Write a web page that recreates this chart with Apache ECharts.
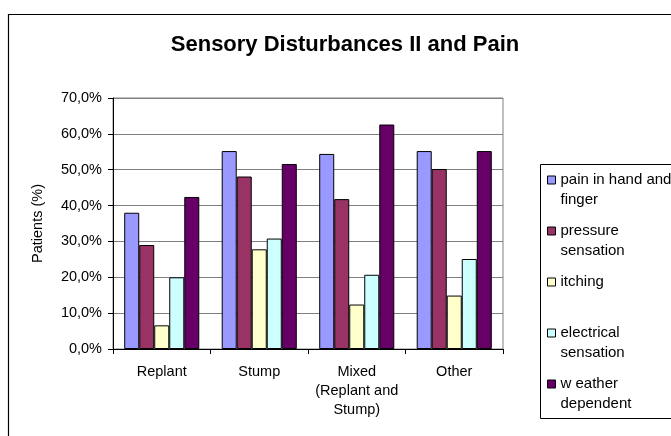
<!DOCTYPE html>
<html><head><meta charset="utf-8">
<script src="https://cdn.jsdelivr.net/npm/echarts@6/dist/echarts.min.js"></script>
<style>html,body{margin:0;padding:0;background:#fff}#c{width:671px;height:436px}</style>
</head><body><div id="c"></div>
<script>
const categories = ['Replant', 'Stump', 'Mixed\n(Replant and\nStump)', 'Other'];
const seriesNames = ['pain in hand and finger', 'pressure sensation', 'itching', 'electrical sensation', 'w eather dependent'];
const legendLabels = ['pain in hand and\nfinger', 'pressure\nsensation', 'itching\n ', 'electrical\nsensation', 'w eather\ndependent'];
const painValues = [38.0, 55.2, 54.4, 55.2];
const pressureValues = [29.0, 48.1, 41.8, 50.2];
const itchingValues = [6.6, 27.8, 12.4, 14.9];
const electricalValues = [20.0, 30.8, 20.7, 25.1];
const weatherValues = [42.4, 51.6, 62.6, 55.2];
const yTicks = [0, 10, 20, 30, 40, 50, 60, 70];
const colors = ['#9999FF', '#993366', '#FFFFCC', '#CCFFFF', '#660066'];
const allValues = [painValues, pressureValues, itchingValues, electricalValues, weatherValues];

const font = 'Liberation Sans, Arial, sans-serif';
const chart = echarts.init(document.getElementById('c'), null, {renderer: 'canvas'});
const legendMap = {};
seriesNames.forEach((n, i) => legendMap[n] = '\n' + legendLabels[i]);

chart.setOption({
  animation: false,
  backgroundColor: '#fff',
  title: {
    text: 'Sensory Disturbances II and Pain',
    left: 345, top: 34, textAlign: 'center', padding: 0,
    textStyle: {fontFamily: font, fontSize: 22, fontWeight: 'bold', color: '#000'}
  },
  graphic: [{
    type: 'rect', silent: true,
    shape: {x: 8.5, y: 14.5, width: 700, height: 460},
    style: {fill: 'none', stroke: '#000', lineWidth: 1.2}
  }, {
    type: 'rect', silent: true,
    shape: {x: 540.5, y: 164.5, width: 200, height: 254},
    style: {fill: 'none', stroke: '#000', lineWidth: 1}
  }],
  legend: {
    orient: 'vertical', left: 547, top: 150,
    data: seriesNames,
    icon: 'rect', itemWidth: 8, itemHeight: 8, itemGap: -9,
    padding: 0,
    formatter: n => legendMap[n],
    textStyle: {fontFamily: font, fontSize: 15, color: '#000', lineHeight: 20},
    itemStyle: {borderColor: '#000', borderWidth: 1}
  },
  grid: {left: 113, right: 168, top: 98, bottom: 87, show: true, borderColor: '#808080', borderWidth: 1, containLabel: false},
  xAxis: {
    type: 'category', data: categories,
    axisLine: {lineStyle: {color: '#000', width: 1}},
    axisTick: {show: true, interval: 0, length: 5, lineStyle: {color: '#000'}},
    axisLabel: {fontFamily: font, fontSize: 14.5, color: '#000', margin: 13, lineHeight: 19, interval: 0}
  },
  yAxis: {
    type: 'value', min: 0, max: 70, interval: 10,
    name: 'Patients (%)', nameLocation: 'middle', nameGap: 68, nameRotate: 90,
    nameTextStyle: {fontFamily: font, fontSize: 14.5, color: '#000'},
    axisLine: {show: true, lineStyle: {color: '#000', width: 1}},
    axisTick: {show: true, length: 5, lineStyle: {color: '#000'}},
    splitLine: {lineStyle: {color: '#808080', width: 1}},
    axisLabel: {fontFamily: font, fontSize: 14.5, color: '#000', margin: 11,
      formatter: v => v.toFixed(1).replace('.', ',') + '%'}
  },
  series: seriesNames.map((n, i) => ({
    name: n, type: 'bar', data: allValues[i],
    barCategoryGap: '23%', barGap: '0%',
    itemStyle: {color: colors[i], borderColor: '#000', borderWidth: 1}
  }))
});
</script></body></html>
